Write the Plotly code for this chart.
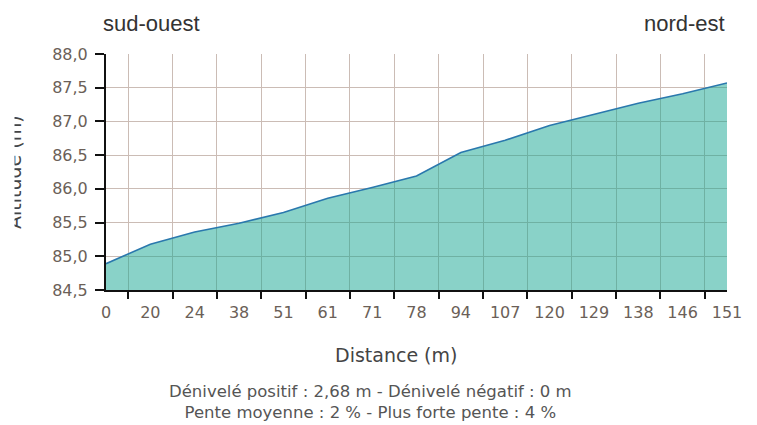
import plotly.graph_objects as go

distance_labels = ["0", "20", "24", "38", "51", "61", "71", "78", "94", "107",
                   "120", "129", "138", "146", "151"]
altitude = [84.89, 85.18, 85.36, 85.49, 85.65, 85.86, 86.02, 86.19, 86.54, 86.72,
            86.94, 87.11, 87.27, 87.41, 87.57]
y_range = [84.5, 88.0]
title_left = "sud-ouest"
title_right = "nord-est"
x_title = "Distance (m)"
y_title = "Altitude (m)"
stats_text = "Dénivelé positif : 2,68 m - Dénivelé négatif : 0 m<br>Pente moyenne : 2 % - Plus forte pente : 4 %"

W, H = 757, 425
L, R, T, B = 106, 30, 54, 135
PW, PH = W - L - R, H - T - B

def px_x(p):
    return (p - L) / PW

def px_y(p):
    return (T + PH - p) / PH

fig = go.Figure()
fig.add_trace(go.Scatter(
    x=distance_labels, y=altitude, mode="lines",
    line=dict(color="#2a78ad", width=1.6),
    fill="tozeroy", fillcolor="rgba(20,165,145,0.5)",
    hoverinfo="skip", showlegend=False,
))

tick_font = dict(family="DejaVu Sans", size=16, color="#6b5f58")
grid_color = "#cbbcb5"

fig.update_xaxes(
    type="category", range=[0, len(distance_labels) - 1],
    tickson="boundaries", ticks="outside", ticklen=7, tickwidth=2, tickcolor="#111",
    ticklabelstandoff=7,
    showgrid=True, gridcolor=grid_color, gridwidth=1,
    showline=True, linecolor="#111", linewidth=2,
    tickfont=tick_font, zeroline=False, fixedrange=True,
)
fig.update_yaxes(
    range=y_range, dtick=0.5, tick0=84.5, tickformat=".1f",
    ticks="outside", ticklen=9, tickwidth=2, tickcolor="#111",
    ticklabelstandoff=4,
    showgrid=True, gridcolor=grid_color, gridwidth=1,
    showline=True, linecolor="#111", linewidth=2,
    tickfont=tick_font, zeroline=False, fixedrange=True,
)

annotations = [
    dict(text=title_left, x=px_x(101), y=px_y(24), xanchor="left", yanchor="middle",
         font=dict(family="Liberation Sans", size=22, color="#333")),
    dict(text=title_right, x=px_x(727), y=px_y(24), xanchor="right", yanchor="middle",
         font=dict(family="Liberation Sans", size=22, color="#333")),
    dict(text=x_title, x=px_x(396), y=px_y(355), xanchor="center", yanchor="middle",
         font=dict(family="DejaVu Sans", size=19, color="#444")),
    dict(text=stats_text, x=px_x(370), y=px_y(402), xanchor="center", yanchor="middle",
         font=dict(family="DejaVu Sans", size=16.5, color="#555")),
    dict(text=y_title, textangle=-90, x=px_x(27), y=0.5, xanchor="right", yanchor="middle",
         font=dict(family="DejaVu Sans", size=19, color="#444")),
    dict(text=" ", x=px_x(0), y=0.5, xanchor="left", yanchor="middle",
         width=13, height=200, bgcolor="white", borderpad=0),
]
for a in annotations:
    a.update(xref="paper", yref="paper", showarrow=False)

fig.update_layout(
    width=W, height=H,
    margin=dict(l=L, r=R, t=T, b=B),
    paper_bgcolor="white", plot_bgcolor="white",
    separators=", ",
    annotations=annotations,
)

fig.write_html("out.html", config={"displayModeBar": False},
               post_script="document.body.style.margin='0';document.body.style.overflow='hidden';")
